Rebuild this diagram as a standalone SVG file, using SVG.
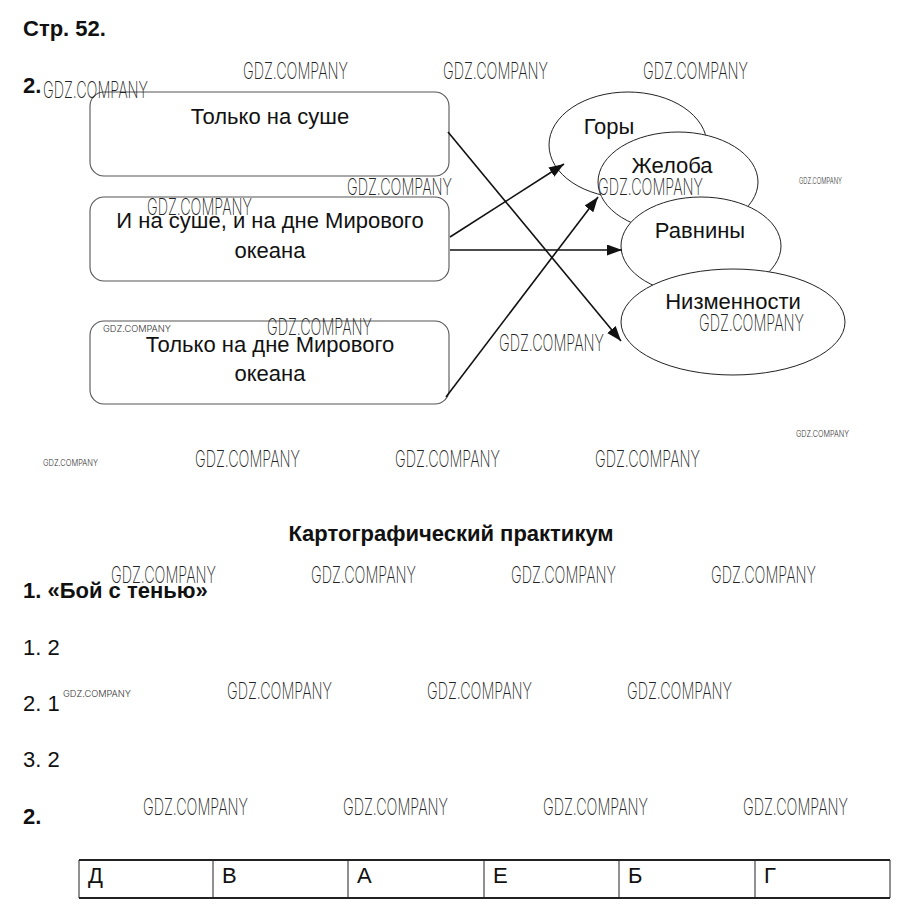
<svg xmlns="http://www.w3.org/2000/svg" width="899" height="916" viewBox="0 0 899 916">
<defs>
<marker id="ah" markerUnits="userSpaceOnUse" markerWidth="16" markerHeight="12" refX="15" refY="5.5" orient="auto">
<path d="M0,0 L15,5.5 L0,11 Z" fill="#111"/>
</marker>
</defs>
<style>
.t{font-family:"Liberation Sans",Arial,sans-serif;fill:#111;font-size:22px}
.b{font-weight:bold}
.box{fill:#fff;stroke:#555;stroke-width:1.1}
.ell{fill:#fff;stroke:#222;stroke-width:1}
.c{stroke:#111;stroke-width:1.6;fill:none;marker-end:url(#ah)}
.w{font-family:Inter,Roboto,"Liberation Sans",sans-serif;font-weight:200;fill:#222;font-size:23px}
.ws{font-family:Inter,Roboto,"Liberation Sans",sans-serif;font-weight:300;fill:#333;font-size:9px}
.cell{fill:none;stroke:#222;stroke-width:1}
</style>
<rect width="899" height="916" fill="#fff"/>
<text class="t b" x="23" y="36">Стр. 52.</text>
<text class="t b" x="23" y="93">2.</text>

<g id="box1"><rect class="box" x="90" y="92" width="359" height="84" rx="14"/><text class="t" x="270" y="124" text-anchor="middle">Только на суше</text></g>
<g id="box2"><rect class="box" x="90" y="197" width="359" height="84" rx="14"/><text class="t" x="270" y="228" text-anchor="middle">И на суше, и на дне Мирового</text><text class="t" x="270" y="258" text-anchor="middle">океана</text></g>
<g id="box3"><rect class="box" x="90" y="321" width="359" height="83" rx="14"/><text class="t" x="270" y="352" text-anchor="middle">Только на дне Мирового</text><text class="t" x="270" y="381" text-anchor="middle">океана</text></g>

<g id="gory"><ellipse class="ell" cx="628" cy="145" rx="79" ry="53"/><text class="t" x="609" y="134" text-anchor="middle">Горы</text></g>
<g id="zheloba"><ellipse class="ell" cx="678" cy="182" rx="80" ry="50"/><text class="t" x="672" y="173" text-anchor="middle">Желоба</text></g>
<g id="ravniny"><ellipse class="ell" cx="701" cy="246" rx="80" ry="49"/><text class="t" x="700" y="238" text-anchor="middle">Равнины</text></g>
<g id="nizmennosti"><ellipse class="ell" cx="733" cy="322" rx="112" ry="53"/><text class="t" x="733" y="309" text-anchor="middle">Низменности</text></g>

<g id="connectors">
<line class="c" x1="448" y1="132" x2="621" y2="341"/>
<line class="c" x1="450" y1="237" x2="564" y2="164"/>
<line class="c" x1="450" y1="250" x2="622" y2="250"/>
<line class="c" x1="446" y1="397" x2="598" y2="197"/>
</g>

<text class="t b" x="451" y="541" text-anchor="middle">Картографический практикум</text>
<text class="t b" x="23" y="598">1. «Бой с тенью»</text>
<text class="t" x="23" y="655">1. 2</text>
<text class="t" x="23" y="711">2. 1</text>
<text class="t" x="23" y="767">3. 2</text>
<text class="t b" x="23" y="824">2.</text>

<g id="table">
<line x1="79" y1="860" x2="890" y2="860" stroke="#222" stroke-width="2"/>
<line x1="79" y1="898" x2="890" y2="898" stroke="#222" stroke-width="2"/>
<line class="cell" x1="79" y1="860" x2="79" y2="898"/>
<line class="cell" x1="213" y1="860" x2="213" y2="898"/>
<line class="cell" x1="348" y1="860" x2="348" y2="898"/>
<line class="cell" x1="484" y1="860" x2="484" y2="898"/>
<line class="cell" x1="619" y1="860" x2="619" y2="898"/>
<line class="cell" x1="755" y1="860" x2="755" y2="898"/>
<line class="cell" x1="890" y1="860" x2="890" y2="898"/>
<text class="t" x="88" y="883">Д</text>
<text class="t" x="222" y="883">В</text>
<text class="t" x="357" y="883">А</text>
<text class="t" x="493" y="883">Е</text>
<text class="t" x="628" y="883">Б</text>
<text class="t" x="764" y="883">Г</text>
</g>

<g id="watermarks">
<text class="w" x="243" y="79" textLength="105" lengthAdjust="spacingAndGlyphs">GDZ.COMPANY</text>
<text class="w" x="443" y="79" textLength="105" lengthAdjust="spacingAndGlyphs">GDZ.COMPANY</text>
<text class="w" x="643" y="79" textLength="105" lengthAdjust="spacingAndGlyphs">GDZ.COMPANY</text>
<text class="w" x="43" y="98" textLength="105" lengthAdjust="spacingAndGlyphs">GDZ.COMPANY</text>
<text class="w" x="347" y="195" textLength="105" lengthAdjust="spacingAndGlyphs">GDZ.COMPANY</text>
<text class="w" x="147" y="215" textLength="105" lengthAdjust="spacingAndGlyphs">GDZ.COMPANY</text>
<text class="w" x="598" y="195" textLength="105" lengthAdjust="spacingAndGlyphs">GDZ.COMPANY</text>
<text class="w" x="267" y="335" textLength="105" lengthAdjust="spacingAndGlyphs">GDZ.COMPANY</text>
<text class="w" x="499" y="351" textLength="105" lengthAdjust="spacingAndGlyphs">GDZ.COMPANY</text>
<text class="w" x="699" y="331" textLength="105" lengthAdjust="spacingAndGlyphs">GDZ.COMPANY</text>
<text class="w" x="195" y="467" textLength="105" lengthAdjust="spacingAndGlyphs">GDZ.COMPANY</text>
<text class="w" x="395" y="467" textLength="105" lengthAdjust="spacingAndGlyphs">GDZ.COMPANY</text>
<text class="w" x="595" y="467" textLength="105" lengthAdjust="spacingAndGlyphs">GDZ.COMPANY</text>
<text class="w" x="111" y="583" textLength="105" lengthAdjust="spacingAndGlyphs">GDZ.COMPANY</text>
<text class="w" x="311" y="583" textLength="105" lengthAdjust="spacingAndGlyphs">GDZ.COMPANY</text>
<text class="w" x="511" y="583" textLength="105" lengthAdjust="spacingAndGlyphs">GDZ.COMPANY</text>
<text class="w" x="711" y="583" textLength="105" lengthAdjust="spacingAndGlyphs">GDZ.COMPANY</text>
<text class="w" x="227" y="699" textLength="105" lengthAdjust="spacingAndGlyphs">GDZ.COMPANY</text>
<text class="w" x="427" y="699" textLength="105" lengthAdjust="spacingAndGlyphs">GDZ.COMPANY</text>
<text class="w" x="627" y="699" textLength="105" lengthAdjust="spacingAndGlyphs">GDZ.COMPANY</text>
<text class="w" x="143" y="815" textLength="105" lengthAdjust="spacingAndGlyphs">GDZ.COMPANY</text>
<text class="w" x="343" y="815" textLength="105" lengthAdjust="spacingAndGlyphs">GDZ.COMPANY</text>
<text class="w" x="543" y="815" textLength="105" lengthAdjust="spacingAndGlyphs">GDZ.COMPANY</text>
<text class="w" x="743" y="815" textLength="105" lengthAdjust="spacingAndGlyphs">GDZ.COMPANY</text>
<text class="ws" x="799" y="184" textLength="43" lengthAdjust="spacingAndGlyphs">GDZ.COMPANY</text>
<text class="ws" x="796" y="437" textLength="53" lengthAdjust="spacingAndGlyphs">GDZ.COMPANY</text>
<text class="ws" x="43" y="466" textLength="55" lengthAdjust="spacingAndGlyphs">GDZ.COMPANY</text>
<text class="ws" x="103" y="332" font-size="14" textLength="68" lengthAdjust="spacingAndGlyphs">GDZ.COMPANY</text>
<text class="ws" x="63" y="697" font-size="14" textLength="68" lengthAdjust="spacingAndGlyphs">GDZ.COMPANY</text>
</g>
</svg>
